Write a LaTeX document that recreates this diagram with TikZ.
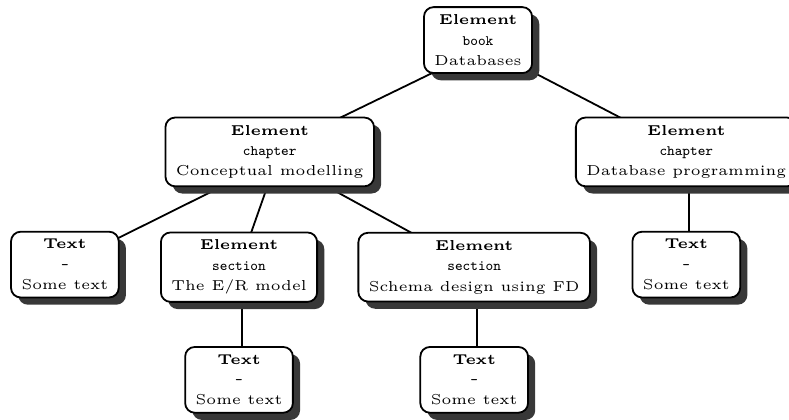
\documentclass[tikz,border=0pt]{standalone}
\usepackage{fix-cm}
\usepackage{tikz}
\usetikzlibrary{positioning,shadows,backgrounds}

\begin{document}
\begin{tikzpicture}[
  every node/.style={font=\fontsize{4.8}{6.8}\selectfont},
  xmlnode/.style={draw, semithick, rounded corners=3.2pt, fill=white, align=center,
    inner xsep=3.5pt, inner ysep=2.5pt,
    drop shadow={fill=black!78, opacity=1, shadow xshift=2.4pt, shadow yshift=-2.4pt}},
  link/.style={semithick},
  shade off/.style={shift={(2.4pt,-2.4pt)}},
  half off/.style={xshift=1pt}
]
\useasboundingbox (0,0) rectangle (9.243,-4.920);
% element nodes
\node[xmlnode] (book) at (5.60,-0.47) {\textbf{Element}\\\texttt{book}\\Databases};
\node[xmlnode] (ch1) at (3.16,-1.78) {\textbf{Element}\\\texttt{chapter}\\Conceptual modelling};
\node[xmlnode] (ch2) at (8.04,-1.78) {\textbf{Element}\\\texttt{chapter}\\Database programming};
\node[xmlnode] (sec1) at (2.80,-3.13) {\textbf{Element}\\\texttt{section}\\The E/R model};
\node[xmlnode] (sec2) at (5.555,-3.13) {\textbf{Element}\\\texttt{section}\\Schema design using FD};
% text nodes
\node[xmlnode] (txt1) at (0.76,-3.10) {\textbf{Text}\\\texttt{-}\\Some text};
\node[xmlnode] (txt2) at (2.80,-4.45) {\textbf{Text}\\\texttt{-}\\Some text};
\node[xmlnode] (txt3) at (5.555,-4.45) {\textbf{Text}\\\texttt{-}\\Some text};
\node[xmlnode] (txt4) at (8.04,-3.10) {\textbf{Text}\\\texttt{-}\\Some text};
% links, from the parent's shadow to the child
\begin{pgfonlayer}{background}
\draw[link] ([shade off]book.center) -- (ch1.center);
\draw[link] ([shade off]book.center) -- (ch2.center);
\draw[link] ([shade off]ch1.center) -- (txt1.center);
\draw[link] ([shade off]ch1.center) -- (sec1.center);
\draw[link] ([shade off]ch1.center) -- (sec2.center);
\draw[link] ([half off]sec1.center) -- ([half off]txt2.center);
\draw[link] ([half off]sec2.center) -- ([half off]txt3.center);
\draw[link] ([half off]ch2.center) -- ([half off]txt4.center);
\end{pgfonlayer}
\end{tikzpicture}
\end{document}
